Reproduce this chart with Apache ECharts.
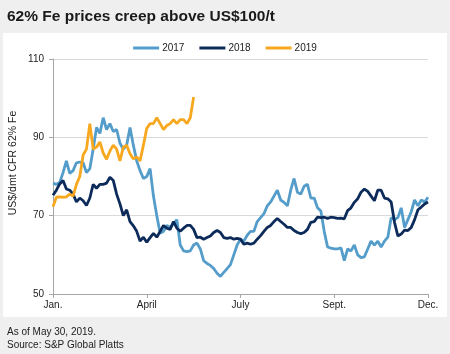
<!DOCTYPE html>
<html>
<head>
<meta charset="utf-8">
<script src="https://cdn.jsdelivr.net/npm/echarts@6/dist/echarts.min.js"></script>
<style>
html,body{margin:0;padding:0;background:#efefef;}
#c{width:450px;height:354px;}
</style>
</head>
<body>
<div id="c"></div>
<script>
const xTickLabels = ['Jan.', 'April', 'July', 'Sept.', 'Dec.'];
const seriesNames = ['2017', '2018', '2019'];

const v2017 = [78.3,78,78.5,81,84,80.8,81.5,83.5,83.7,83.5,
81,82,87,92.5,91,95,92,93.5,91.5,92,
88.5,87,88,92.5,88,84,81.5,79.5,80,82,
75,70,65.5,66,67.5,67,68,69,62.5,61,
60.8,61,62.5,63,61.5,58.5,57.8,57.3,56.5,55.3,
54.5,55.5,56.5,57.5,60,62.5,64,63.5,65,66,
66,68.5,69.5,70.5,72.5,73.5,75,76.5,74,73.4,
72.5,76.5,79.5,76,75.5,77.5,78,74.5,74.5,72,
71.2,66,62,61.7,61.5,61.5,61.8,58.5,61.5,61,
62.5,60,59.3,59.5,61.5,63.5,62.5,63.5,62,63.5,
64.5,69.5,69,69.5,72,67,69,71,74,72.5,
74,73.5,74.7];

const v2018 = [75.2,76.5,78.1,79,76.8,76.5,75.5,73.5,74.5,73.8,
72.6,74.5,78,77,78,78,78.3,79.8,79,75.5,
73,70,71.5,68.5,67.4,66,63.5,64.5,63.2,64.4,
65.5,64.5,66,67.5,66.8,66.5,68.5,66.8,66,66.8,
67.5,67.5,66.5,64.4,64.5,64,64.4,64.8,65.7,66.2,
65.7,64.4,64.2,64.4,64,64.2,64,62.7,63,62.7,
63,64,64.9,66,67,67.5,68.5,69.3,68.5,67.8,
67,67,66.2,65.7,65.4,65.7,66.5,68.3,68.5,69.6,
69.5,69.6,69.3,69.6,69.5,69.3,69.4,69.2,71.3,72,
73.4,74.3,76,76.8,76.2,75,73.8,76.5,76.5,74.5,
74.3,73.5,68.3,64.8,65.3,66.3,66.2,67,69,71.5,
72.2,73,73.5];

const v2019 = [72.3,74.7,74.8,74.7,74.8,75.5,75,78,80,85.5,
87,93.5,87,87.5,88.8,86,84.4,86.5,88,87,
84,87.5,88,85.8,84.5,85,84,88,92.3,93.5,
93.5,95,93.5,92,93,93.5,94.5,93.5,94.5,94.5,
93.5,95,100.3];

const colors = ['#549dca', '#0c2b5b', '#f8a81f'];
const font = "'Liberation Sans', Arial, sans-serif";

function pairs(arr) { return arr.map((v, i) => [i, v]); }
const lastIndex = v2017.length - 1;
const tickStep = lastIndex / (xTickLabels.length - 1);

const chart = echarts.init(document.getElementById('c'), null, {renderer: 'canvas'});
chart.setOption({
  animation: false,
  backgroundColor: '#efefef',
  textStyle: {fontFamily: font},
  title: {
    text: '62% Fe prices creep above US$100/t',
    left: 2, top: 4,
    textStyle: {fontSize: 15.5, fontWeight: 'bold', color: '#1a1a1a', fontFamily: font}
  },
  graphic: [
    {type: 'rect', z: -10, shape: {x: 3, y: 33, width: 444, height: 284}, style: {fill: '#ffffff'}},
    {type: 'text', x: 13, y: 163, rotation: Math.PI / 2,
      style: {text: 'US$/dmt CFR 62% Fe', fontSize: 10.5, fill: '#222', fontFamily: font, align: 'center', verticalAlign: 'middle'}},
    {type: 'text', x: 7, y: 332,
      style: {text: 'As of May 30, 2019.', fontSize: 10, fill: '#222', fontFamily: font, verticalAlign: 'middle'}},
    {type: 'text', x: 7, y: 345,
      style: {text: 'Source: S&P Global Platts', fontSize: 10, fill: '#222', fontFamily: font, verticalAlign: 'middle'}}
  ],
  legend: {
    top: 38, left: 'center',
    icon: 'rect', itemWidth: 26, itemHeight: 3, itemGap: 15,
    textStyle: {fontSize: 10, color: '#222', fontFamily: font, padding: [0, 0, 0, -2]},
    data: seriesNames
  },
  grid: {left: 53, right: 22, top: 59, bottom: 60},
  xAxis: {
    type: 'value', min: 0, max: lastIndex, interval: tickStep,
    axisLine: {show: true, lineStyle: {color: '#a6a6a6', width: 1}},
    axisTick: {show: true, length: 4, lineStyle: {color: '#a6a6a6'}},
    splitLine: {show: false},
    axisLabel: {
      fontSize: 10, color: '#222', margin: 6, fontFamily: font,
      formatter: function (v) { return xTickLabels[Math.round(v / tickStep)] || ''; }
    }
  },
  yAxis: {
    type: 'value', min: 50, max: 110, interval: 20,
    axisLine: {show: true, lineStyle: {color: '#a6a6a6', width: 1}},
    axisTick: {show: true, length: 4, lineStyle: {color: '#a6a6a6'}},
    splitLine: {show: true, lineStyle: {color: '#d9d9d9', width: 1}},
    axisLabel: {fontSize: 10, color: '#222', margin: 9, fontFamily: font}
  },
  series: [
    {name: seriesNames[0], type: 'line', data: pairs(v2017), symbol: 'none', color: colors[0], lineStyle: {width: 2.8, color: colors[0]}, z: 2},
    {name: seriesNames[1], type: 'line', data: pairs(v2018), symbol: 'none', color: colors[1], lineStyle: {width: 2.8, color: colors[1]}, z: 3},
    {name: seriesNames[2], type: 'line', data: pairs(v2019), symbol: 'none', color: colors[2], lineStyle: {width: 2.8, color: colors[2]}, z: 4}
  ]
});
</script>
</body>
</html>
